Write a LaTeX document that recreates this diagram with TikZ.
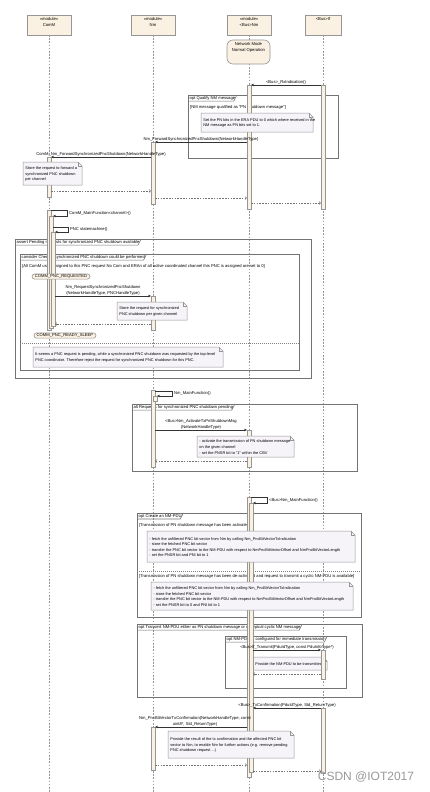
\documentclass[tikz,border=0pt]{standalone}
\usepackage{fontspec}
\setmainfont{Liberation Sans}
\usetikzlibrary{arrows.meta,calc,shapes.misc}
\definecolor{beige}{RGB}{251,241,226}
\definecolor{notefill}{RGB}{246,244,249}
\definecolor{edge}{RGB}{150,150,150}
\newcommand\ft{\fontsize{4.15}{5.4}\selectfont}
\newcommand\fh{\fontsize{4.2}{6}\selectfont}
\newcommand\fn{\fontsize{3.9}{5.6}\selectfont}
\newcommand\umlframe[6]{%
  \draw[frm] (#2,#3) rectangle (#4,#5);
  \node[tabtxt] (#1) at (#2,#3) {#6\hspace{3pt}};
  \draw[frm] (#1.south west) -- ([xshift=-3pt]#1.south east) -- (#1.north east);
}
\newcommand\umlnote[6]{%
  \filldraw[notebox] (#2,#3) -- ({#4-4},#3) -- (#4,{#3+4}) -- (#4,#5) -- (#2,#5) -- cycle;
  \draw[notebox, fill=none] ({#4-4},#3) -- ({#4-4},{#3+4}) -- (#4,{#3+4});
  \node[notetxt] (#1) at ({#2+2.2},{(#3+#5)/2+0.6}) {#6};
}
\newcommand\actbar[5]{%
  \node[actbox, minimum height={(#5-#3)*1pt}] (#1) at (#2,#3) {};
}
\begin{document}
\begin{tikzpicture}[x=1pt,y=-1pt,
  lifeline/.style={draw=edge, line width=0.45pt, dash pattern=on 1.6pt off 1.6pt},
  headbox/.style={draw=edge, fill=beige, line width=0.7pt, minimum width=44pt, minimum height=20pt, inner sep=0pt, outer sep=0pt},
  headtxt/.style={font=\fh, align=center, inner sep=0pt, anchor=north},
  actbox/.style={draw=edge, fill=beige, line width=0.5pt, inner sep=0pt, outer sep=0pt, anchor=north west, minimum width=4pt},
  msg/.style={draw=black!80, line width=0.45pt, -{Stealth[length=3pt,width=2.6pt]}},
  retmsg/.style={draw=black!55, line width=0.45pt, dash pattern=on 1.6pt off 1.2pt, -{Straight Barb[length=1.6pt,width=2.8pt]}},
  msgtxt/.style={font=\ft, inner sep=0.6pt, align=center},
  frm/.style={draw=black!55, line width=0.6pt},
  tabtxt/.style={font=\ft, inner xsep=1.5pt, inner ysep=0.9pt, anchor=north west},
  guardtxt/.style={font=\ft, inner sep=0pt, anchor=west},
  notebox/.style={draw=edge, fill=notefill, line width=0.5pt},
  notetxt/.style={font=\fn, inner sep=0pt, anchor=west, align=left},
  statebox/.style={draw=edge, fill=beige, line width=0.6pt, rounded corners=6pt, minimum width=43pt, minimum height=24pt, inner sep=0pt},
  pill/.style={rounded rectangle, draw=edge, fill=beige, line width=0.6pt, inner xsep=2pt, inner ysep=0.8pt, font=\ft},
  sepline/.style={draw=black!50, line width=0.5pt, dash pattern=on 1pt off 1pt},
]
\useasboundingbox[fill=white] (0,0) rectangle (430,792);

% ---------- heads ----------
\node[headbox] (comm) at (49,25) {};
\node[headtxt] (commt) at (49,17) {«module»\\ComM};
\node[headbox] (nm) at (153,25) {};
\node[headtxt] (nmt) at (153,17) {«module»\\Nm};
\node[headbox] (busnm) at (249,25) {};
\node[headtxt] (busnmt) at (249,17) {«module»\\<Bus>Nm};
\node[headbox, minimum width=36pt] (busif) at (323,25) {};
\node[headtxt] (busift) at (323,17) {<Bus>If};

% ---------- lifelines ----------
\coordinate (commend) at (49,792);
\coordinate (nmend) at (153,792);
\coordinate (busnmend) at (249,792);
\coordinate (busifend) at (323,792);
\draw[lifeline] (comm.south) -- (commend);
\draw[lifeline] (nm.south) -- (nmend);
\draw[lifeline] (busnm.south) -- (busnmend);
\draw[lifeline] (busif.south) -- (busifend);

\node[statebox] (nmstate) at (248.5,52) {};
\node[headtxt] (nmstatet) at (248.5,42) {Network Mode\\Normal Operation};

% ---------- frames ----------
\umlframe{f1}{188}{95}{338}{158}{opt Qualify NM message}
\node[guardtxt] (g1) at (190,107) {[NM message qualified as "PN shutdown message"]};

\umlframe{f2}{15}{239}{311}{378}{assert Pending requests for synchronized PNC shutdown available}
\umlframe{f3}{20}{254}{299}{370}{consider Check if synchronized PNC shutdown could be performed}
\node[guardtxt] (g2) at (22,266) {[All ComM user assigned to this PNC request No Com and ERAn of all active coordinated channel this PNC is assigned are set to 0]};
\coordinate (s1a) at (20,343);
\coordinate (s1b) at (299,343);
\draw[sepline] (s1a) -- (s1b);

\umlframe{f4}{132}{404}{357}{471}{alt Requests for synchronized PNC shutdown pending}

\umlframe{f5}{137}{513}{361}{617}{opt Create an NM-PDU}
\node[guardtxt] (g3) at (139,525) {[Transmission of PN shutdown message has been activated]};
\coordinate (s2a) at (137,571);
\coordinate (s2b) at (361,571);
\draw[sepline] (s2a) -- (s2b);
\node[guardtxt] (g4) at (139,576.5) {[Transmission of PN shutdown message has been de-activated and request to transmit a cyclic NM-PDU is available]};

\umlframe{f6}{137}{624}{362}{697}{opt Transmit NM-PDU either as PN shutdown message or as typical cyclic NM message}
\umlframe{f7}{225}{636}{346}{688}{opt NM-PDU is configured for immediate transmission}

% note lying under the activation bars
\umlnote{n8}{248}{657}{327}{670}{\hspace{5pt}Provide the NM-PDU to be transmitted}

% ---------- activation bars ----------
\actbar{bn1}{247}{85}{251}{209}
\actbar{bi1}{321}{85}{325}{209}
\actbar{nm1}{151}{142}{155}{204}
\actbar{cm1}{47}{157}{51}{197}
\actbar{cm2}{47}{210}{51}{330}
\actbar{cm3}{49}{216}{53}{328}
\actbar{cm4}{51}{232}{55}{326}
\actbar{nm2}{151}{296}{155}{330}
\actbar{nm3}{151}{390}{155}{467}
\actbar{nm4}{153}{396}{157}{401}
\actbar{bn2}{247}{430}{251}{467}
\actbar{bn3}{247}{497}{251}{777}
\actbar{bn4}{249}{503}{253}{772}
\actbar{bi2}{321}{650}{325}{679}
\actbar{bi3}{321}{708}{325}{773}
\actbar{nm5}{151}{727}{155}{770}

% ---------- states ----------
\node[pill] (pncreq) at (61,276.5) {COMM\_PNC\_REQUESTED};
\node[pill] (pncsleep) at (65,335.5) {COMM\_PNC\_READY\_SLEEP};

% ---------- notes ----------
\umlnote{n1}{201}{113}{313}{132}{Set the PN bits in the ERA PDU to 0 which where received in the\\NM message as PN bits set to 1.}
\umlnote{n2}{23}{162}{82}{185}{Store the request to forward a\\synchronized PNC shutdown\\per channel}
\umlnote{n3}{117}{302}{187}{320}{Store the request for synchronized\\PNC shutdown per given channel}
\umlnote{n4}{33}{347}{223}{367}{It seems a PNC request is pending, while a synchronized PNC shutdown was requested by the top-level\\PNC coordinator. Therefore reject the request for synchronized PNC shutdown for this PNC.}
\umlnote{n5}{197}{436}{294}{457}{- activate the transmission of PN shutdown message\\on the given channel\\- set the PNSR bit to "1" within the CBV}
\umlnote{n6}{147}{531}{355}{562}{- fetch the unfiltered PNC bit vector from Nm by calling Nm\_PncBitVectorTxIndication\\- store the fetched PNC bit vector\\- transfer the PNC bit vector to the NM-PDU with respect to NmPncBitVectorOffset and NmPncBitVectorLength\\- set the PNSR bit and PNI bit to 1}
\umlnote{n7}{151}{582}{353}{610}{- fetch the unfiltered PNC bit vector from Nm by calling Nm\_PncBitVectorTxIndication\\- store the fetched PNC bit vector\\- transfer the PNC bit vector to the NM-PDU with respect to NmPncBitVectorOffset and NmPncBitVectorLength\\- set the PNSR bit to 0 and PNI bit to 1}
\umlnote{n9}{168}{731}{294}{758}{Provide the result of the tx confirmation and the affected PNC bit\\vector to Nm, to enable Nm for further actions (e.g. remove pending\\PNC shutdown request ...)}

% ---------- messages ----------
\draw[msg] (bi1.west |- 0,85) -- node[msgtxt, above] (l1) {<Bus>\_RxIndication()} (bn1.east |- 0,85);
\draw[msg] (bn1.west |- 0,142) -- node[msgtxt, above] (l2) {Nm\_ForwardSynchronizedPncShutdown(NetworkHandleType)} (nm1.east |- 0,142);
\draw[msg] (nm1.west |- 0,157) -- node[msgtxt, above] (l3) {ComM\_Nm\_ForwardSynchronizedPncShutdown(NetworkHandleType)} (cm1.east |- 0,157);
\draw[retmsg] (cm1.east |- 0,191) -- (nm1.west |- 0,191);
\draw[retmsg] (nm1.east |- 0,198) -- (bn1.west |- 0,198);
\draw[retmsg] (bn1.east |- 0,203) -- (bi1.west |- 0,203);

\draw[msg] (cm2.east |- 0,210) -- (67,210) -- (67,216) -- (cm3.east |- 0,216);
\node[guardtxt] (l4) at (69,213) {ComM\_MainFunction<channel>()};
\draw[msg] (cm3.east |- 0,227) -- (68,227) -- (68,232) -- (cm4.east |- 0,232);
\node[guardtxt] (l5) at (70,229.5) {PNC statemachine()};

\draw[msg] (cm4.east |- 0,296) -- node[msgtxt, above] (l6) {Nm\_RequestSynchronizedPncShutdown\\(NetworkHandleType, PNCHandleType)} (nm2.west |- 0,296);
\draw[retmsg] (nm2.west |- 0,324) -- (cm4.east |- 0,324);

\draw[msg] (nm3.east |- 0,391) -- (172,391) -- (172,396) -- (nm4.east |- 0,396);
\node[guardtxt] (l7) at (174,393.5) {Nm\_MainFunction()};
\draw[msg] (nm3.east |- 0,430) -- node[msgtxt, above] (l8) {<Bus>Nm\_ActivateTxPnShutdownMsg\\(NetworkHandleType)} (bn2.west |- 0,430);
\draw[retmsg] (bn2.west |- 0,461) -- (nm3.east |- 0,461);

\draw[msg] (bn3.east |- 0,497) -- (267,497) -- (267,503) -- (bn4.east |- 0,503);
\node[guardtxt] (l9) at (269,500) {<Bus>Nm\_MainFunction()};

\draw[msg] (bn4.east |- 0,650) -- node[msgtxt, above] (l10) {<Bus>If\_Transmit(PduIdType, const PduInfoType*)} (bi2.west |- 0,650);
\draw[retmsg] (bi2.west |- 0,674) -- (bn4.east |- 0,674);

\draw[msg] (bi3.west |- 0,708) -- node[msgtxt, above] (l11) {<Bus>\_TxConfirmation(PduIdType, Std\_ReturnType)} (bn4.east |- 0,708);
\draw[msg] (bn3.west |- 0,727) -- node[msgtxt, above, xshift=-6pt] (l12) {Nm\_PncBitVectorTxConfirmation(NetworkHandleType, const\\uint8*, Std\_ReturnType)} (nm5.east |- 0,727);
\draw[retmsg] (nm5.east |- 0,765) -- (bn3.west |- 0,765);
\draw[retmsg] (bn4.east |- 0,771) -- (bi3.west |- 0,771);

% ---------- watermark ----------
\node[font=\fontsize{12}{12}\selectfont, text=black!40, inner sep=0pt] (wm) at (366,777) {CSDN @IOT2017};
\end{tikzpicture}
\end{document}
